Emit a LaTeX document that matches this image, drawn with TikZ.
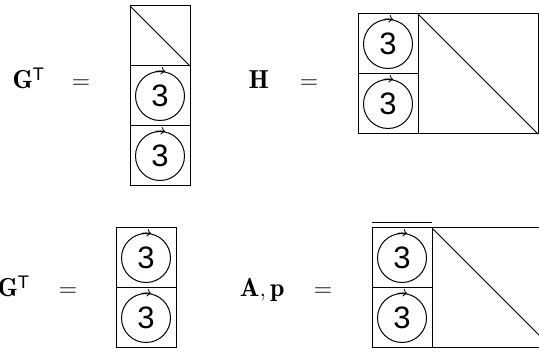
\documentclass[tikz,border=0pt,12pt]{standalone}
\usepackage{fontspec}
\setsansfont{Liberation Sans}
\tikzset{
  ring/.style={draw,circle,minimum size=24.5pt,inner sep=0pt,font=\sffamily\fontsize{15.5}{17}\selectfont},
  lbl/.style={inner sep=0pt,font=\fontsize{13}{15}\selectfont},
}
\begin{document}
\begin{tikzpicture}[x=0.5pt,y=0.5pt,line width=0.5pt]
\clip (0,0) rectangle (539,352);

% top left: G^T
\node[lbl,anchor=base west] (gt1) at (12,263) {$\mathbf{G}^{\mathsf{T}}$};
\node[lbl,anchor=base] (eq1) at (81,263) {$=$};
\draw (130,346) rectangle (190,286);
\draw (130,346) -- (190,286);
\draw (130,286) rectangle (190,226);
\node[ring] (a1) at (160,256) {3};
\draw[->] (a1.100) arc (100:78:12.25pt);
\draw (130,226) rectangle (190,166);
\node[ring] (a2) at (160,196) {3};
\draw[->] (a2.100) arc (100:78:12.25pt);

% top right: H
\node[lbl,anchor=base west] (h) at (248,263) {$\mathbf{H}$};
\node[lbl,anchor=base] (eq2) at (309,263) {$=$};
\draw (358,338) rectangle (418,278);
\node[ring] (b1) at (388,308) {3};
\draw[->] (b1.100) arc (100:78:12.25pt);
\draw (358,278) rectangle (418,218);
\node[ring] (b2) at (388,248) {3};
\draw[->] (b2.100) arc (100:78:12.25pt);
\draw (418,338) rectangle (538,218);
\draw (418,338) -- (538,218);

% bottom left: G^T
\node[lbl,anchor=base west] (gt2) at (-3,55) {$\mathbf{G}^{\mathsf{T}}$};
\node[lbl,anchor=base] (eq3) at (68,55) {$=$};
\draw (116,124) rectangle (176,64);
\node[ring] (c1) at (146,94) {3};
\draw[->] (c1.100) arc (100:78:12.25pt);
\draw (116,64) rectangle (176,4);
\node[ring] (c2) at (146,34) {3};
\draw[->] (c2.100) arc (100:78:12.25pt);

% bottom right: A, p
\node[lbl,anchor=base east] (ap) at (285,55) {$\mathbf{A},\mathbf{p}$};
\node[lbl,anchor=base] (eq4) at (323,55) {$=$};
\draw (372,129) -- (432,129);
\draw (372,124) rectangle (432,64);
\node[ring] (d1) at (402,94) {3};
\draw[->] (d1.100) arc (100:78:12.25pt);
\draw (372,64) rectangle (432,4);
\node[ring] (d2) at (402,34) {3};
\draw[->] (d2.100) arc (100:78:12.25pt);
\draw (432,124) rectangle (552,4);
\draw (432,124) -- (552,4);
\end{tikzpicture}
\end{document}
